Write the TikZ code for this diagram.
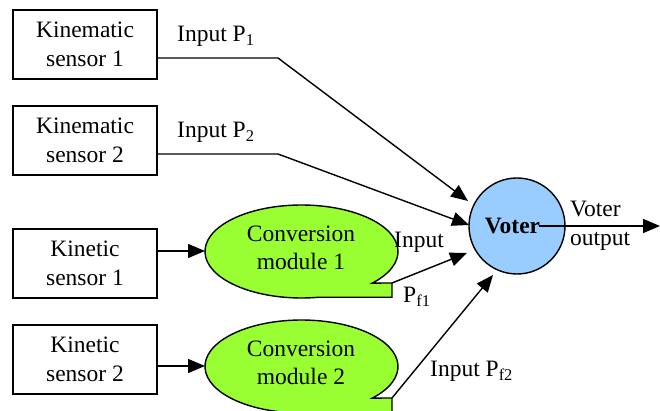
\documentclass[tikz,border=0pt]{standalone}
\usepackage{fontspec}
\setmainfont{Liberation Serif}
\usetikzlibrary{arrows.meta}
\definecolor{convgreen}{HTML}{99FF33}
\definecolor{voterblue}{HTML}{99CCFF}
\begin{document}
\begin{tikzpicture}[x=1pt,y=1pt,
  txt/.style={font=\fontsize{23.5}{28.5}\selectfont, inner sep=0pt},
  sensor/.style={txt, draw, line width=1.4pt, minimum width=144pt, minimum height=69pt, align=center},
  arr/.style={line width=1.4pt, -{Triangle[length=17pt,width=14pt]}},
  conv/.style={draw, line width=1.4pt, fill=convgreen},
  voterstyle/.style={txt, draw, line width=1.4pt, fill=voterblue, circle, minimum size=96pt, font=\fontsize{23.5}{28.5}\selectfont\bfseries},
]
\useasboundingbox (0,0) rectangle (660,411);

% sensors
\node[sensor] (ks1) at (85,366.5) {Kinematic\\sensor 1};
\node[sensor] (ks2) at (85,270.5) {Kinematic\\sensor 2};
\node[sensor] (kt1) at (85,147.5) {Kinetic\\sensor 1};
\node[sensor] (kt2) at (85,51.5) {Kinetic\\sensor 2};

% conversion modules: oval callouts with a small tail at the lower right
\foreach \dy in {0,-115} {
  \path[conv, shift={(0,\dy)}] (372.3,127.9)
    arc[start angle=-42.8, end angle=280, x radius=96.5, y radius=46.5]
    -- (392,113.7) -- (392,128) -- cycle;
}
\node[txt, align=center] (cm1) at (301,163) {Conversion\\module 1};
\node[txt, align=center] (cm2) at (301,48) {Conversion\\module 2};
\coordinate (cm1in) at (205,160);
\coordinate (cm2in) at (205,45);
\coordinate (cm1tail) at (392,128);
\coordinate (cm2tail) at (392,13);

% voter (label sits a little left of centre)
\node[voterstyle] (voter) at (517,185) {Voter\hspace*{9pt}};
\coordinate (t1) at (468,210);
\coordinate (t2) at (469,186);
\coordinate (t3) at (467,158);
\coordinate (t4) at (493,136);
\coordinate (out) at (660,185);

% kinematic inputs
\draw[arr] (ks1.east |- 0,353) -- (278,353) -- (t1);
\draw[arr] (ks2.east |- 0,257) -- (278,257) -- (t2);
% kinetic chain
\draw[arr] (kt1.east |- cm1in) -- (cm1in);
\draw[arr] (kt2.east |- cm2in) -- (cm2in);
\draw[arr] (cm1tail) -- (t3);
\draw[arr] (cm2tail) -- (t4);
% output
\draw[arr] ([xshift=22pt]voter.center) -- (out);

% labels
\node[txt, anchor=base west] (lp1) at (177,369) {Input P\textsubscript{1}};
\node[txt, anchor=base west] (lp2) at (177,273) {Input P\textsubscript{2}};
\node[txt, anchor=base west] (lin) at (394,163) {Input};
\node[txt, anchor=base west] (lpf1) at (403,108) {P\textsubscript{f1}};
\node[txt, anchor=base west] (lpf2) at (430,34) {Input P\textsubscript{f2}};
\node[txt, anchor=west, align=left] (lout) at (570,185) {Voter\\output};
\end{tikzpicture}
\end{document}
